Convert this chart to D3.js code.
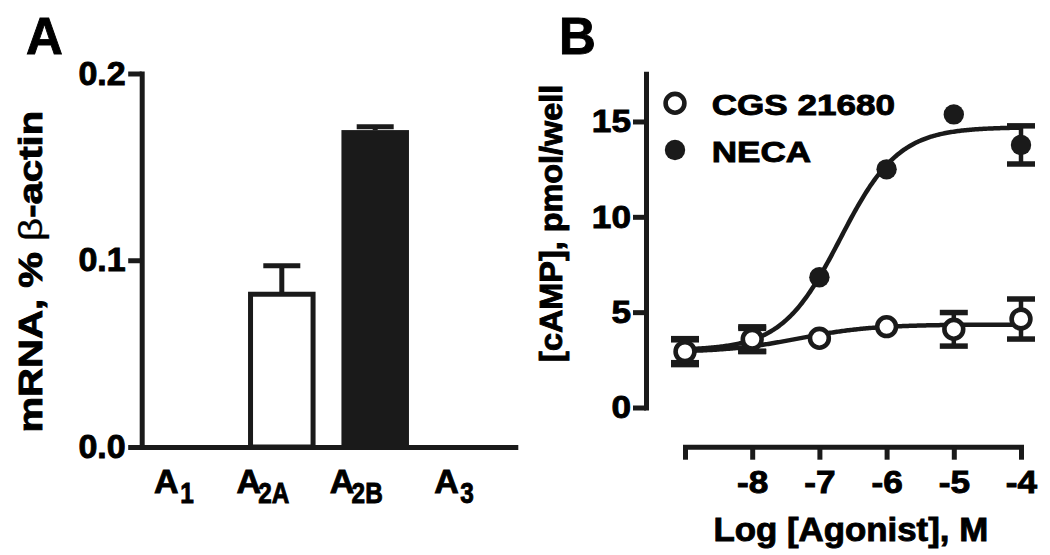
<!DOCTYPE html>
<html><head><meta charset="utf-8">
<script src="https://cdn.jsdelivr.net/npm/d3@7"></script>
<style>
body{margin:0;background:#fff;}
svg text{font-family:"Liberation Sans",Arial,Helvetica,sans-serif;font-weight:bold;fill:#000;stroke:#000;stroke-width:0.9px;}
svg text .thin{font-weight:normal;stroke-width:0.3px;}
</style></head><body>
<svg id="chart" width="1050" height="555"></svg>
<script>
// ---------- Panel A data ----------
const receptors = ["A1", "A2A", "A2B", "A3"];
const receptorMain = ["A", "A", "A", "A"];
const receptorSub = ["1", "2A", "2B", "3"];
const mrnaMean = [0, 0.0818, 0.1697, 0];
const mrnaSem = [0, 0.0153, 0.0018, 0];
const mrnaTicks = [0, 0.1, 0.2];
const mrnaTickLabels = ["0.0", "0.1", "0.2"];

// ---------- Panel B data ----------
const logAgonist = [-9, -8, -7, -6, -5, -4];
const cgsMean = [2.93, 3.58, 3.63, 4.24, 4.10, 4.64];
const cgsSem = [0.68, 0.65, 0, 0, 0.88, 1.05];
const necaMean = [2.95, 3.55, 6.83, 12.49, 15.37, 13.77];
const necaSem = [0.6, 0.6, 0, 0, 0, 1.0];
// sigmoid fit parameters: bottom, top, logEC50, Hill slope
const cgsFit = [2.9, 4.35, -7.3, 0.8];
const necaFit = [3.0, 14.7, -6.69, 1.0];
const camTicks = [0, 5, 10, 15];
const logTicks = [-9, -8, -7, -6, -5, -4];
const logTickLabels = ["", "-8", "-7", "-6", "-5", "-4"];
const seriesNames = ["CGS 21680", "NECA"];

// ---------- drawing ----------
const INK = "#1a1a1a";
const svg = d3.select("#chart");
function stretch(sel, sx) {
  sel.each(function () {
    const L = this.getComputedTextLength();
    this.setAttribute("textLength", L * sx);
    this.setAttribute("lengthAdjust", "spacingAndGlyphs");
  });
}
function styleAxis(g) {
  g.attr("font-size", null).attr("font-family", null);
  g.select(".domain").attr("stroke", INK).attr("stroke-width", 5).attr("stroke-linecap", "square");
  g.selectAll(".tick line").attr("stroke", INK).attr("stroke-width", 5);
}

// ===== Panel A =====
const barFill = { A2A: "#ffffff", A2B: INK };
const xA = d3.scaleBand().domain(receptors).range([141.7, 515.3]).paddingInner(0.277).paddingOuter(0.1385);
const yA = d3.scaleLinear().domain([0, 0.2]).range([447, 73.5]);

const barsA = receptors.map((r, i) => ({ r, m: mrnaMean[i], s: mrnaSem[i] })).filter(d => d.m > 0);

const ebA = svg.append("g");
ebA.selectAll("line.v").data(barsA).join("line")
  .attr("x1", d => xA(d.r) + xA.bandwidth() / 2).attr("x2", d => xA(d.r) + xA.bandwidth() / 2)
  .attr("y1", d => yA(d.m)).attr("y2", d => yA(d.m + d.s))
  .attr("stroke", INK).attr("stroke-width", 5);
ebA.selectAll("line.cap").data(barsA).join("line")
  .attr("x1", d => xA(d.r) + xA.bandwidth() / 2 - 18.5).attr("x2", d => xA(d.r) + xA.bandwidth() / 2 + 18.5)
  .attr("y1", d => yA(d.m + d.s)).attr("y2", d => yA(d.m + d.s))
  .attr("stroke", INK).attr("stroke-width", 5);

svg.append("g").selectAll("rect").data(barsA).join("rect")
  .attr("x", d => barFill[d.r] === INK ? xA(d.r) : xA(d.r) + 2.5)
  .attr("width", d => barFill[d.r] === INK ? xA.bandwidth() : xA.bandwidth() - 5)
  .attr("y", d => yA(d.m))
  .attr("height", d => yA(0) - yA(d.m))
  .attr("fill", d => barFill[d.r])
  .attr("stroke", d => barFill[d.r] === INK ? "none" : INK)
  .attr("stroke-width", 5);

const gAy = svg.append("g").attr("transform", "translate(141.7,0)")
  .call(d3.axisLeft(yA).tickValues(mrnaTicks).tickFormat((d, i) => mrnaTickLabels[i])
    .tickSize(13.5).tickSizeOuter(0).tickPadding(2.5));
styleAxis(gAy);
gAy.selectAll(".tick text").attr("font-size", 33).attr("fill", "#000");
stretch(gAy.selectAll(".tick text"), 1.03);

const gAx = svg.append("g").attr("transform", "translate(0,447)")
  .call(d3.axisBottom(xA).tickSize(0).tickSizeOuter(0).tickFormat(""));
styleAxis(gAx);
gAx.selectAll(".tick text").remove();
gAx.selectAll(".tick").each(function (d) {
  const i = receptors.indexOf(d);
  const g = d3.select(this);
  const tm = g.append("text").attr("font-size", 34).text(receptorMain[i]);
  const ts = g.append("text").attr("font-size", 29).text(receptorSub[i]);
  const wm = tm.node().getComputedTextLength();
  const sxs = 0.84;
  const ws = ts.node().getComputedTextLength() * sxs;
  const gap = receptorSub[i].length === 1 ? -4 : 0.5;
  const total = wm + gap + ws;
  const x0 = -5 - total / 2;
  tm.attr("x", x0).attr("y", 46.3);
  ts.attr("transform", `translate(${x0 + wm + gap},56) scale(${sxs},1)`);
});

// y title A
const tA = svg.append("text").attr("transform", "translate(41.5,271.7) rotate(-90)")
  .attr("text-anchor", "middle").attr("font-size", 34);
tA.append("tspan").text("mRNA, % ");
tA.append("tspan").attr("class", "thin").text("β");
tA.append("tspan").text("-actin");
stretch(tA, 1.18);

svg.append("text").attr("x", 26).attr("y", 54).attr("font-size", 51).text("A");

// ===== Panel B =====
const xB = d3.scaleLinear().domain([-9, -4]).range([685, 1021]);
const yB = d3.scaleLinear().domain([0, 17.5]).range([407.5, 73.8]);

const gBy = svg.append("g").attr("transform", "translate(646,0)")
  .call(d3.axisLeft(yB).tickValues(camTicks).tickFormat(d => String(d))
    .tickSize(13).tickSizeOuter(0).tickPadding(2));
styleAxis(gBy);
gBy.selectAll(".tick text").attr("font-size", 32).attr("fill", "#000");
stretch(gBy.selectAll(".tick text"), 1.1);

const gBx = svg.append("g").attr("transform", "translate(0,446.7)")
  .call(d3.axisBottom(xB).tickValues(logTicks).tickFormat((d, i) => logTickLabels[i])
    .tickSize(13).tickSizeOuter(0));
styleAxis(gBx);
gBx.selectAll(".tick text").attr("font-size", 32).attr("fill", "#000").attr("y", 46.6).attr("dy", 0);
stretch(gBx.selectAll(".tick text").filter(function () { return this.textContent.length > 0; }), 1.1);

const tBy = svg.append("text").attr("transform", "translate(561.5,223.3) rotate(-90)")
  .attr("text-anchor", "middle").attr("font-size", 31).text("[cAMP], pmol/well");
stretch(tBy, 1.045);
const tBx = svg.append("text").attr("x", 850.8).attr("y", 540.7)
  .attr("text-anchor", "middle").attr("font-size", 33.5).text("Log [Agonist], M");
stretch(tBx, 1.04);

svg.append("text").attr("x", 559).attr("y", 54).attr("font-size", 51).text("B");

// fitted curves
function logistic(p, x) { return p[0] + (p[1] - p[0]) / (1 + Math.pow(10, (p[2] - x) * p[3])); }
const xs = d3.range(-9, -4.0001, 0.02).concat([-4]);
const line = d3.line().x(d => xB(d[0])).y(d => yB(d[1]));
[necaFit, cgsFit].forEach(p => {
  svg.append("path").attr("d", line(xs.map(x => [x, logistic(p, x)])))
    .attr("fill", "none").attr("stroke", INK).attr("stroke-width", 4.5);
});

function errorBars(means, sems) {
  const g = svg.append("g");
  const d = logAgonist.map((x, i) => ({ x, m: means[i], s: sems[i] })).filter(e => e.s > 0);
  g.selectAll("line.v").data(d).join("line")
    .attr("x1", e => xB(e.x)).attr("x2", e => xB(e.x))
    .attr("y1", e => yB(e.m - e.s)).attr("y2", e => yB(e.m + e.s))
    .attr("stroke", INK).attr("stroke-width", 4.5);
  [1, -1].forEach(sg => {
    g.selectAll("line.c" + (sg > 0 ? "p" : "m")).data(d).join("line")
      .attr("x1", e => xB(e.x) - 14).attr("x2", e => xB(e.x) + 14)
      .attr("y1", e => yB(e.m + sg * e.s)).attr("y2", e => yB(e.m + sg * e.s))
      .attr("stroke", INK).attr("stroke-width", 5.5);
  });
}
errorBars(necaMean, necaSem);
errorBars(cgsMean, cgsSem);

svg.append("g").selectAll("circle").data(logAgonist).join("circle")
  .attr("cx", (x) => xB(x)).attr("cy", (x, i) => yB(necaMean[i])).attr("r", 10.2).attr("fill", INK);
svg.append("g").selectAll("circle").data(logAgonist).join("circle")
  .attr("cx", (x) => xB(x)).attr("cy", (x, i) => yB(cgsMean[i])).attr("r", 9.4)
  .attr("fill", "#fff").attr("stroke", INK).attr("stroke-width", 4.6);

// legend
const lg = svg.append("g");
lg.append("circle").attr("cx", 675).attr("cy", 103.3).attr("r", 9.4).attr("fill", "#fff").attr("stroke", INK).attr("stroke-width", 4.6);
lg.append("circle").attr("cx", 675).attr("cy", 150).attr("r", 10.2).attr("fill", INK);
const lt = lg.selectAll("text").data(seriesNames).join("text")
  .attr("x", 711.7).attr("y", (d, i) => i === 0 ? 115 : 161.7).attr("font-size", 30).text(d => d);
stretch(lt, 1.17);
</script>
</body></html>
